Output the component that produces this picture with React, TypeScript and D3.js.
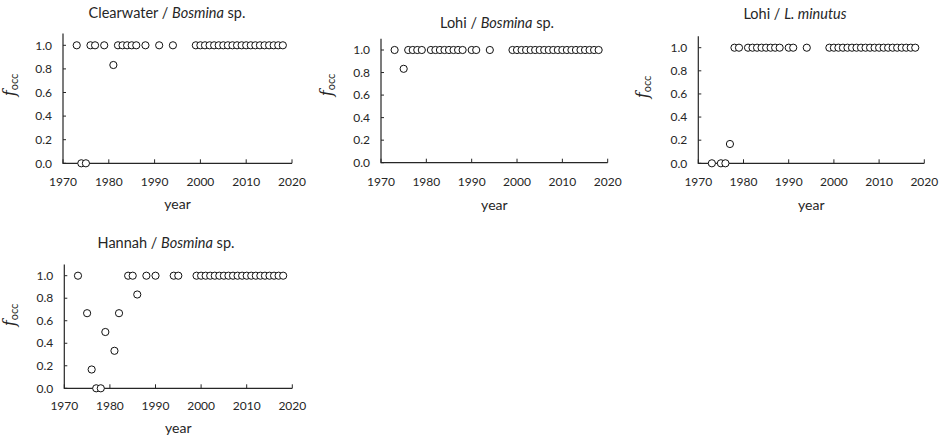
import React from "react";
import * as d3 from "d3";

const width = 939;
const height = 441;

// years sampled per lake
const clearwaterYears = [1973, 1974, 1975, 1976, 1977, 1979, 1981, 1982, 1983, 1984, 1985, 1986, 1988, 1991, 1994,
  1999, 2000, 2001, 2002, 2003, 2004, 2005, 2006, 2007, 2008, 2009, 2010, 2011, 2012, 2013, 2014, 2015, 2016, 2017, 2018];
const clearwaterBosmina = [1, 0, 0, 1, 1, 1, 0.833, 1, 1, 1, 1, 1, 1, 1, 1,
  1, 1, 1, 1, 1, 1, 1, 1, 1, 1, 1, 1, 1, 1, 1, 1, 1, 1, 1, 1];

const lohiYears = [1973, 1975, 1976, 1977, 1978, 1979, 1981, 1982, 1983, 1984, 1985, 1986, 1987, 1988, 1990, 1991, 1994,
  1999, 2000, 2001, 2002, 2003, 2004, 2005, 2006, 2007, 2008, 2009, 2010, 2011, 2012, 2013, 2014, 2015, 2016, 2017, 2018];
const lohiBosmina = [1, 0.833, 1, 1, 1, 1, 1, 1, 1, 1, 1, 1, 1, 1, 1, 1, 1,
  1, 1, 1, 1, 1, 1, 1, 1, 1, 1, 1, 1, 1, 1, 1, 1, 1, 1, 1, 1];
const lohiMinutus = [0, 0, 0, 0.167, 1, 1, 1, 1, 1, 1, 1, 1, 1, 1, 1, 1, 1,
  1, 1, 1, 1, 1, 1, 1, 1, 1, 1, 1, 1, 1, 1, 1, 1, 1, 1, 1, 1];

const hannahYears = [1973, 1975, 1976, 1977, 1978, 1979, 1981, 1982, 1984, 1985, 1986, 1988, 1990, 1994, 1995,
  1999, 2000, 2001, 2002, 2003, 2004, 2005, 2006, 2007, 2008, 2009, 2010, 2011, 2012, 2013, 2014, 2015, 2016, 2017, 2018];
const hannahBosmina = [1, 0.667, 0.167, 0, 0, 0.5, 0.333, 0.667, 1, 1, 0.833, 1, 1, 1, 1,
  1, 1, 1, 1, 1, 1, 1, 1, 1, 1, 1, 1, 1, 1, 1, 1, 1, 1, 1, 1];

const xTicks = [1970, 1980, 1990, 2000, 2010, 2020];
const yTicks = [0, 0.2, 0.4, 0.6, 0.8, 1.0];

const font = "Lato, 'Open Sans', sans-serif";
const ink = "#262626";

type Panel = {
  site: string; species: string; suffix: string;
  years: number[]; values: number[];
  left: number; right: number; bottom: number; top: number;
  titleX: number; titleY: number; labX: number; labY: number;
  tickY: number; yearY: number;
};

const panels: Panel[] = [
  { site: "Clearwater / ", species: "Bosmina", suffix: " sp.", years: clearwaterYears, values: clearwaterBosmina,
    left: 63, right: 292, bottom: 163.3, top: 45.3, titleX: 167, titleY: 13, labX: 15, labY: 85, tickY: 182, yearY: 204 },
  { site: "Lohi / ", species: "Bosmina", suffix: " sp.", years: lohiYears, values: lohiBosmina,
    left: 381, right: 607.7, bottom: 162.7, top: 50, titleX: 497, titleY: 22.5, labX: 332, labY: 85, tickY: 182, yearY: 205 },
  { site: "Lohi / ", species: "L. minutus", suffix: "", years: lohiYears, values: lohiMinutus,
    left: 698.3, right: 924.3, bottom: 163.3, top: 47.7, titleX: 795, titleY: 14, labX: 648, labY: 87, tickY: 182, yearY: 205 },
  { site: "Hannah / ", species: "Bosmina", suffix: " sp.", years: hannahYears, values: hannahBosmina,
    left: 64.3, right: 292.3, bottom: 388.3, top: 275.7, titleX: 166, titleY: 242.7, labX: 15, labY: 315, tickY: 406, yearY: 428 },
];

const ScatterPanel = ({ p }: { p: Panel }) => {
  const x = d3.scaleLinear().domain([1970, 2020]).range([p.left, p.right]);
  const y = d3.scaleLinear().domain([0, 1]).range([p.bottom, p.top]);
  const fmt = d3.format(".1f");
  return (
    <g>
      <text x={p.titleX} y={p.titleY} dy="0.35em" textAnchor="middle" fontSize={14.5} fill={ink}>
        {p.site}<tspan fontStyle="italic">{p.species}</tspan>{p.suffix}
      </text>
      {/* axes */}
      <path d={`M${x(1970)},${y(1.1)}V${y(0)}H${x(2020)}`} fill="none" stroke={ink} strokeWidth={1.2} />
      {xTicks.map(t => (
        <g key={t}>
          <line x1={x(t)} x2={x(t)} y1={y(0)} y2={y(0) - 4} stroke={ink} strokeWidth={1} />
          <text x={x(t)} y={p.tickY} dy="0.35em" textAnchor="middle" fontSize={12} fill={ink}>{t}</text>
        </g>
      ))}
      {yTicks.map(t => (
        <g key={t}>
          <line x1={x(1970)} x2={x(1970) + 3} y1={y(t)} y2={y(t)} stroke={ink} strokeWidth={1} />
          <text x={x(1970) - 11} y={y(t)} dy="0.35em" textAnchor="end" fontSize={12} fill={ink}>{fmt(t)}</text>
        </g>
      ))}
      <text x={(p.left + p.right) / 2} y={p.yearY} dy="0.35em" textAnchor="middle" fontSize={14} fill={ink}>year</text>
      <text transform={`translate(${p.labX},${p.labY}) rotate(-90)`} textAnchor="middle" fill={ink}>
        <tspan fontFamily="'DejaVu Serif', serif" fontStyle="italic" fontSize={16}>f</tspan>
        <tspan fontSize={11} dy={3} fontFamily={font}>occ</tspan>
      </text>
      {p.years.map((yr, i) => (
        <circle key={yr} cx={x(yr)} cy={y(p.values[i])} r={3.6} fill="#fff" stroke="#111" strokeWidth={1} />
      ))}
    </g>
  );
};

export default function App() {
  return (
    <svg width={width} height={height} style={{ position: "absolute", left: 0, top: 0, background: "#fff" }}
      fontFamily={font}>
      {panels.map((p, i) => <ScatterPanel key={i} p={p} />)}
    </svg>
  );
}
